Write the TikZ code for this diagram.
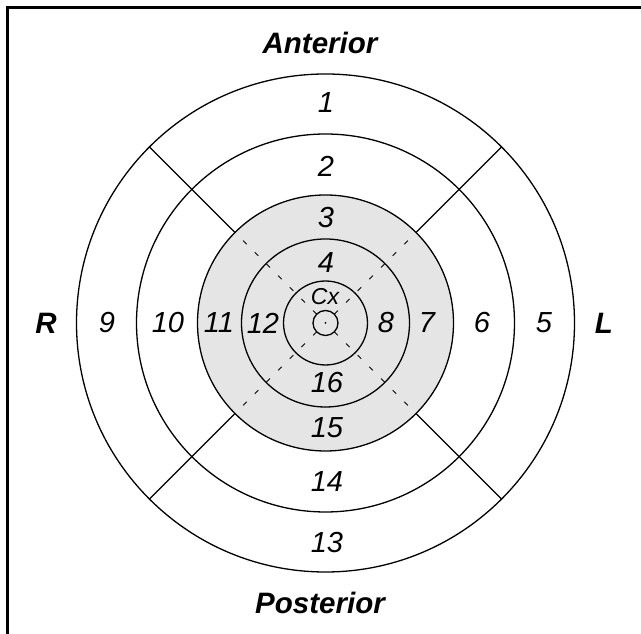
\documentclass[tikz,border=0pt]{standalone}
\usepackage{fontspec}
\setmainfont{Liberation Sans}
\usepackage{tikz}
\usetikzlibrary{shapes}
\usetikzlibrary{positioning}
\tikzstyle{ring}=[circle, draw=black, line width=1.3pt, inner sep=0pt, outer sep=0pt]
\tikzstyle{segment}=[inner sep=0pt, font=\itshape\fontsize{29}{29}\selectfont]
\tikzstyle{side}=[inner sep=0pt, font=\bfseries\itshape\fontsize{29.5}{29.5}\selectfont]

\begin{document}
\begin{tikzpicture}[x=1pt, y=1pt]
	\useasboundingbox (0,0) rectangle (641,634);
	\draw[line width=2.5pt] (7.5,0) -- (7.5,626.5) -- (641,626.5);
			\node (outer) at (325.5,311) [ring, minimum size=498pt] {};
			\node (middle) at (325.5,311) [ring, minimum size=378pt] {};
			\node (grey) at (325.5,311) [ring, fill=black!10, minimum size=256pt] {};
			\node (inner) at (325.5,311) [ring, minimum size=168pt] {};
			\node (apex) at (325.5,311) [ring, minimum size=84pt] {};
			\node (core) at (325.5,311) [ring, minimum size=25pt] {};
			\node (dot) at (325.5,311) [circle, fill=black, inner sep=0pt, minimum size=2pt] {};
			\path[line width=1.3pt]
				(grey.45) edge (outer.45)
				(grey.135) edge (outer.135)
				(grey.225) edge (outer.225)
				(grey.315) edge (outer.315);
			\path[line width=1pt, dash pattern=on 5pt off 11.5pt]
				(core.45) edge (grey.45)
				(core.135) edge (grey.135)
				(core.225) edge (grey.225)
				(core.315) edge (grey.315);
			% labels
			\node (ant) at (320,591) [side] {Anterior};
			\node (post) at (320,31) [side] {Posterior};
			\node (right) at (46,311) [side] {R};
			\node (left) at (604,311) [side] {L};
			\node (s1) at (326,531) [segment] {1};
			\node (s2) at (326,468) [segment] {2};
			\node (s3) at (326,416) [segment] {3};
			\node (s4) at (326,371) [segment] {4};
			\node (cx) at (325,337) [inner sep=0pt, font=\itshape\fontsize{23}{23}\selectfont] {Cx};
			\node (s16) at (327,251) [segment] {16};
			\node (s15) at (327,206) [segment] {15};
			\node (s14) at (327,152) [segment] {14};
			\node (s13) at (327,91) [segment] {13};
			\node (s9) at (107,311) [segment] {9};
			\node (s10) at (168,311) [segment] {10};
			\node (s11) at (219,311) [segment] {11};
			\node (s12) at (263,311) [segment] {12};
			\node (s8) at (386,311) [segment] {8};
			\node (s7) at (427,311) [segment] {7};
			\node (s6) at (482,311) [segment] {6};
			\node (s5) at (544,311) [segment] {5};
\end{tikzpicture}
\end{document}
